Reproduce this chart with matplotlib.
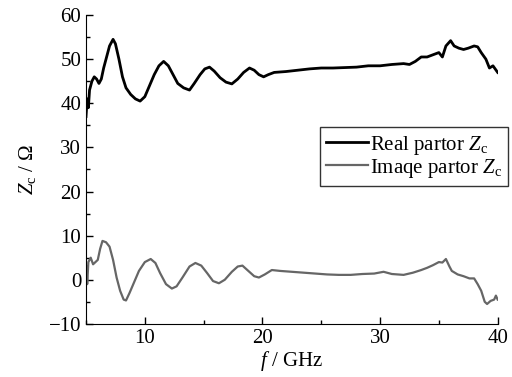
import matplotlib
matplotlib.use("Agg")
import matplotlib.pyplot as plt
from matplotlib.ticker import MultipleLocator

plt.rcParams['font.family'] = ['Liberation Serif', 'DejaVu Serif']
plt.rcParams['mathtext.fontset'] = 'custom'
plt.rcParams['mathtext.rm'] = 'Liberation Serif'
plt.rcParams['mathtext.it'] = 'Liberation Serif:italic'

# real part of Zc (Ohm) vs frequency (GHz)
real_f = [5.0, 5.1, 5.2, 5.3, 5.5, 5.7, 5.9, 6.1, 6.3, 6.5, 6.8, 7.0, 7.3, 7.5, 7.8,
          8.1, 8.4, 8.8, 9.2, 9.6, 10.0, 10.4, 10.8, 11.2, 11.6, 12.0, 12.4, 12.8,
          13.3, 13.8, 14.2, 14.7, 15.1, 15.5, 15.9, 16.4, 16.9, 17.4, 17.9, 18.4,
          18.9, 19.3, 19.7, 20.1, 20.5, 21, 22, 23, 24, 25, 26, 27, 28, 29, 30, 31,
          32, 32.5, 33, 33.5, 34, 34.5, 35, 35.3, 35.6, 36, 36.3, 36.7, 37.1, 37.5,
          38, 38.3, 38.6, 39.0, 39.3, 39.6, 40]
real_z = [37, 41, 39, 43, 45, 46, 45.5, 44.5, 45.5, 48, 51, 53, 54.5, 53.5, 50,
          46, 43.5, 42, 41, 40.5, 41.5, 44, 46.5, 48.5, 49.5, 48.5, 46.5, 44.5,
          43.5, 43, 44.5, 46.5, 47.8, 48.2, 47.3, 45.8, 44.8, 44.4, 45.5, 47,
          48, 47.5, 46.5, 46, 46.5, 47, 47.2, 47.5, 47.8, 48, 48, 48.1, 48.2, 48.5,
          48.5, 48.8, 49, 48.8, 49.5, 50.5, 50.5, 51, 51.5, 50.5, 53, 54.2, 53,
          52.5, 52.2, 52.5, 53, 52.8, 51.5, 50, 48, 48.5, 47]

# imaginary part of Zc
imag_f = [5.0, 5.05, 5.1, 5.2, 5.4, 5.6, 5.8, 6.0, 6.2, 6.4, 6.7, 7.0, 7.3, 7.6,
          7.9, 8.2, 8.4, 8.7, 9.1, 9.5, 10.0, 10.5, 10.9, 11.3, 11.8, 12.3, 12.7,
          13.2, 13.8, 14.3, 14.8, 15.3, 15.8, 16.3, 16.8, 17.4, 17.9, 18.3, 18.8,
          19.3, 19.7, 20.2, 20.8, 21.5, 22.5, 23.5, 24.5, 25.5, 26.5, 27.5, 28.5,
          29.5, 30.3, 31, 32, 32.8, 33.5, 34.0, 34.5, 35.0, 35.3, 35.6, 35.9, 36.1,
          36.6, 37.1, 37.6, 38.0, 38.3, 38.6, 38.9, 39.1, 39.4, 39.7, 39.85, 40]
imag_z = [0, 3, -1, 4, 5, 3.5, 4, 4.5, 7, 8.8, 8.5, 7.5, 4.5, 0.5,
          -2.5, -4.5, -4.7, -3, -0.5, 2, 4, 4.7, 3.8, 1.5, -1, -2, -1.5,
          0.5, 3, 3.8, 3.2, 1.5, -0.3, -0.8, 0, 1.8, 3, 3.2, 2,
          0.8, 0.5, 1.2, 2.2, 2, 1.8, 1.6, 1.4, 1.2, 1.1, 1.1, 1.3,
          1.4, 1.8, 1.3, 1.1, 1.6, 2.2, 2.7, 3.3, 4.0, 3.9, 4.7, 3.0, 2.0,
          1.2, 0.8, 0.3, 0.3, -1.0, -2.5, -5.0, -5.5, -4.8, -4.5, -3.6, -4.5]

fig = plt.figure(figsize=(5.12, 3.77), dpi=100)
ax = fig.add_axes([0.168, 0.141, 0.804, 0.819])

ax.plot(real_f, real_z, color='black', lw=2.0, label=r'Real partor $Z_\mathrm{c}$')
ax.plot(imag_f, imag_z, color='#666666', lw=1.6, label=r'Imaqe partor $Z_\mathrm{c}$')

ax.set_xlim(5, 40)
ax.set_ylim(-10, 60)
ax.xaxis.set_major_locator(MultipleLocator(10))
ax.xaxis.set_minor_locator(MultipleLocator(5))
ax.set_yticks(range(-10, 61, 10))
ax.set_yticklabels(['\u221210', '0', '10', '20', '30', '40', '50', '60'])
ax.yaxis.set_minor_locator(MultipleLocator(5))
ax.tick_params(which='both', direction='in', labelsize=15, width=1)
ax.tick_params(which='major', length=5)
ax.tick_params(which='minor', length=3)
ax.spines['top'].set_visible(False)
ax.spines['right'].set_visible(False)

ax.set_xlabel(r'$f$ / GHz', fontsize=15, labelpad=1)
ax.set_ylabel(r'$Z_\mathrm{c}$ / $\Omega$', fontsize=15, labelpad=8)

leg = ax.legend(loc='upper left', bbox_to_anchor=(0.625, 0.662), bbox_transform=fig.transFigure,
                borderaxespad=0, fontsize=15, frameon=True, fancybox=False,
                handlelength=2.0, handletextpad=0.1, borderpad=0.3, labelspacing=0.0)
leg.get_frame().set_edgecolor('black')
leg.get_frame().set_linewidth(1.0)

fig.savefig('out.png', dpi=100)
